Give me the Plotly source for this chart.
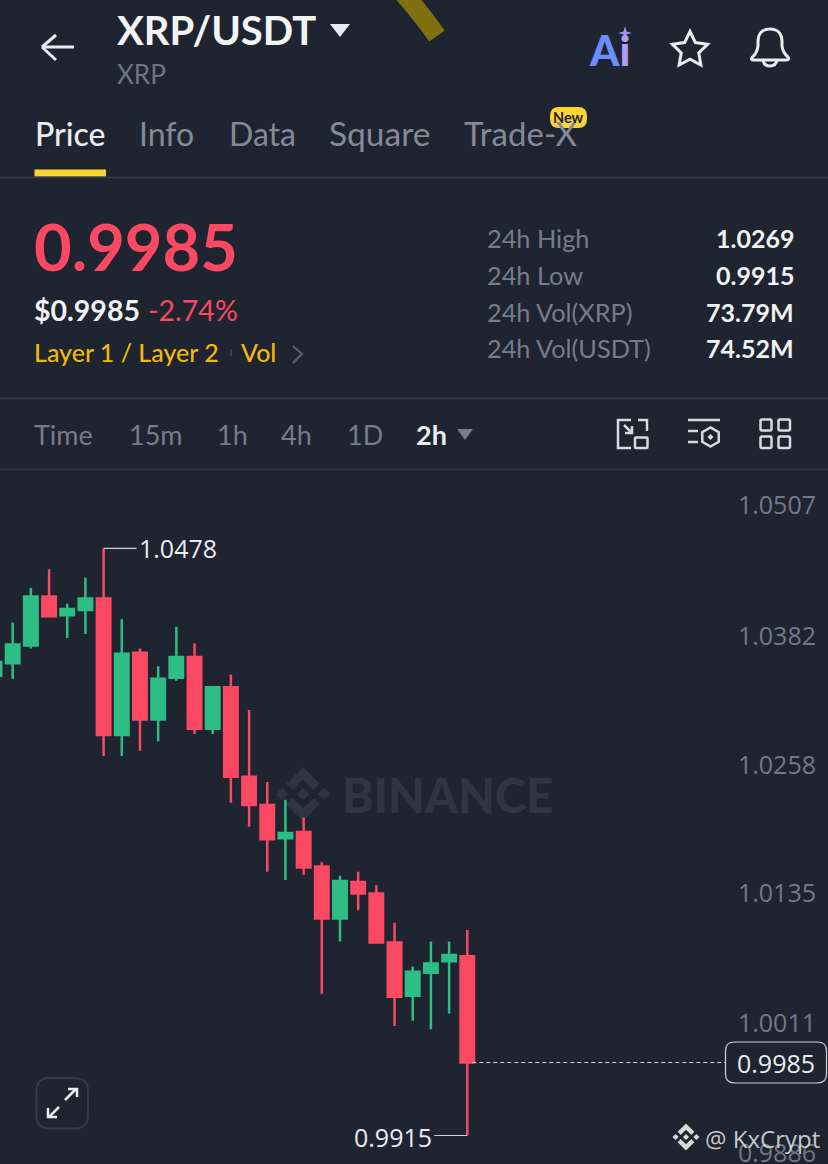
import math
import plotly.graph_objects as go

# ---- data ----
opens  = [1.0356,1.0368,1.0385,1.0432,1.0414,1.0419,1.0430,1.0299,1.0378,1.0314,1.0354,1.0374,1.0305,1.0345,1.0259,1.0232,1.0200,1.0206,1.0173,1.0123,1.0158,1.0147,1.0100,1.0049,1.0071,1.0082,1.0087]
highs  = [1.0376,1.0407,1.0440,1.0458,1.0425,1.0450,1.0478,1.0410,1.0382,1.0365,1.0403,1.0387,1.0345,1.0357,1.0323,1.0254,1.0237,1.0220,1.0177,1.0164,1.0168,1.0155,1.0119,1.0077,1.0101,1.0101,1.0112]
lows   = [1.0352,1.0353,1.0382,1.0413,1.0392,1.0396,1.0279,1.0279,1.0284,1.0293,1.0351,1.0300,1.0300,1.0234,1.0211,1.0168,1.0160,1.0165,1.0051,1.0101,1.0131,1.0100,1.0020,1.0025,1.0017,1.0032,0.9915]
closes = [1.0369,1.0386,1.0432,1.0413,1.0420,1.0430,1.0299,1.0377,1.0314,1.0353,1.0374,1.0305,1.0345,1.0259,1.0232,1.0199,1.0205,1.0172,1.0123,1.0159,1.0147,1.0100,1.0048,1.0072,1.0080,1.0088,0.9985]
price_ticks = [1.0507,1.0382,1.0258,1.0135,1.0011,0.9886]
last_price = 0.9985
tabs = ["Price","Info","Data","Square","Trade-X"]
periods = ["Time","15m","1h","4h","1D","2h"]
stat_labels = ["24h High","24h Low","24h Vol(XRP)","24h Vol(USDT)"]
stat_values = ["1.0269","0.9915","73.79M","74.52M"]

# ---- layout constants ----
W, H = 828, 1190
BG = "#1e2430"
RED = "#fb4863"
GREEN = "#2ebd85"
GRAY = "#848b97"
DIM = "#767d88"
YEL = "#f0b90b"
WHITE = "#eaecef"
UI = "Lato"
NUM = "Open Sans"
SPACING = 18.184
X0PX = -5.5
Y_SCALE = 10427        # pixels per price unit
Y_LAST_PX = 1062.5     # where the last price sits

def px(x): return x / W
def py(y): return 1 - y / H

shapes, annos = [], []

def text(x, y, s, size, color, anchor="left", weight=400, family=UI, opacity=1):
    shift = {"left": -2, "right": 2, "center": 0}[anchor]
    annos.append(dict(xref="paper", yref="paper", x=px(x), y=py(y), text=s, showarrow=False,
                      xanchor=anchor, yanchor="middle", opacity=opacity, borderpad=0, xshift=shift,
                      font=dict(size=size, color=color, family=family, weight=weight)))

def line(x0, y0, x1, y1, color, width=1, dash=None, layer="above"):
    shapes.append(dict(type="line", xref="paper", yref="paper", x0=px(x0), y0=py(y0), x1=px(x1), y1=py(y1),
                       line=dict(color=color, width=width, dash=dash), layer=layer))

def conv(d):
    out = []
    for cmd, c in d:
        vals = []
        for i in range(0, len(c), 2):
            vals.append(f"{px(c[i]):.6f},{py(c[i+1]):.6f}")
        out.append(cmd + " ".join(vals))
    return " ".join(out)

def path(d, color=None, fill=None, width=0, layer="above"):
    shapes.append(dict(type="path", xref="paper", yref="paper", path=conv(d),
                       line=dict(color=color or "rgba(0,0,0,0)", width=width),
                       fillcolor=fill or "rgba(0,0,0,0)", layer=layer))

def poly(pts, close=True):
    d = [("M", list(pts[0]))] + [("L", list(p)) for p in pts[1:]]
    if close:
        d.append(("Z", []))
    return d

def rrect(x0, y0, x1, y1, r):
    return [("M",[x0+r,y0]),("L",[x1-r,y0]),("Q",[x1,y0,x1,y0+r]),("L",[x1,y1-r]),("Q",[x1,y1,x1-r,y1]),
            ("L",[x0+r,y1]),("Q",[x0,y1,x0,y1-r]),("L",[x0,y0+r]),("Q",[x0,y0,x0+r,y0]),("Z",[])]

def logo(cx, cy, r, color, layer="above"):
    top = [(0,-1),(.62,-.38),(.39,-.15),(0,-.54),(-.39,-.15),(-.62,-.38)]
    dia = lambda ox, oy, k: [(ox,oy-k),(ox+k,oy),(ox,oy+k),(ox-k,oy)]
    parts = [top, [(x,-y) for x,y in top], dia(0,0,.23), dia(-.77,0,.23), dia(.77,0,.23)]
    for p in parts:
        path(poly([(cx+r*x, cy+r*y) for x,y in p]), fill=color, layer=layer)

# gold scratch at the top edge
path([("M",[402,-8]),("Q",[420,12,437,36])], color="#80700f", width=19)

# header
for seg in [(74,47,42,47),(56,35,42,47),(56,60,42,47)]:
    line(*seg, WHITE, 3)
text(118, 30, "XRP/USDT", 40, "#f2f3f5", weight=700)
path(poly([(330,24),(350,24),(340,37)]), fill=WHITE)
text(118, 74, "XRP", 26, "#6f7681")
# Ai mark
text(590, 50, '<span style="color:#6a8dff">A</span><span style="color:#b19cf6">i</span>', 42, "#6a8dff", weight=900)
s = 7
path(poly([(625,33-s),(626.5,31.5),(625+s,33),(626.5,34.5),(625,33+s),(623.5,34.5),(625-s,33),(623.5,31.5)]), fill="#a98ff0")
# star
R, r_in = 18.5, 9.2
pts = []
for k in range(10):
    a = -math.pi/2 + k*math.pi/5
    rad = R if k % 2 == 0 else r_in
    pts.append((690 + rad*math.cos(a), 50 + rad*math.sin(a)))
path(poly(pts), color=WHITE, width=3)
# bell
path([("M",[752.5,57]),("Q",[757,53,758,46]),("L",[758,42]),("C",[758,33,763,29,770,29]),("C",[777,29,782,33,782,42]),
      ("L",[782,46]),("Q",[783,53,788,57]),("Q",[790,60,786,60]),("L",[754,60]),("Q",[750,60,752.5,57]),("Z",[])],
     color=WHITE, width=3)
path([("M",[763,60]),("Q",[764,66,770,66]),("Q",[776,66,777,60])], color=WHITE, width=3)

# tabs
for name, x, col, w, fs in zip(tabs, [36,140,230,330,465], [WHITE,GRAY,GRAY,GRAY,GRAY], [500,400,400,400,400], [32,32,32,33.5,33]):
    text(x, 133, name, fs, col, weight=w)
shapes.append(dict(type="rect", xref="paper", yref="paper", x0=px(34.5), x1=px(106), y0=py(169.5), y1=py(176.5),
                   fillcolor="#fcd535", line=dict(width=0)))
line(0,177.5,828,177.5,"#343a46",1.5)
path(rrect(550,107,587,128,9), fill="#fcd535")
text(568.5, 117.5, "New", 14.5, "#1e2329", anchor="center", weight=700)

# price block
text(35, 246, "0.9985", 65, RED, weight=700)
text(35, 310, "$0.9985", 28.5, "#f0f1f3", weight=700)
text(149, 310, "-2.74%", 28.5, RED, weight=400)
text(35, 352, "Layer 1 / Layer 2", 25, YEL, weight=500)
line(231,349,231,356,"#3b414c",2)
text(242, 352, "Vol", 25, YEL, weight=500)
path(poly([(293,346),(302,354),(293,363)], close=False), color="#5a606c", width=2)

# stats
for lab, val, y in zip(stat_labels, stat_values, [238,275,312,348]):
    text(488, y, lab, 25.3, DIM)
    text(793, y, val, 25, "#f0f1f3", anchor="right", weight=700)

line(0,398.5,828,398.5,"#343a46",1.5)
line(0,469.5,828,469.5,"#343a46",1.5)

# period bar
for name, x in zip(periods, [35,130,218,282,348,417]):
    on = name == "2h"
    text(x, 434, name, 27, WHITE if on else DIM, weight=700 if on else 400)
path(poly([(457,429),(473,429),(465,440)]), fill=DIM)

# toolbar icons
IC = "#d8dade"
path([("M",[631,420]),("L",[618,420]),("L",[618,448]),("L",[631,448])], color=IC, width=2.5)
path([("M",[638,420]),("L",[647,420]),("L",[647,431])], color=IC, width=2.5)
path(rrect(635,437.5,647.5,448,1), color=IC, width=2.5)
line(624,425,632,433,IC,2.5)
path(poly([(625,433),(632,433),(632,426)],close=False), color=IC, width=2.5)
line(688,420,720,420,IC,2.5)
line(688,431,698,431,IC,2.5)
line(688,442,698,442,IC,2.5)
hexa = [(710.5+9.5*math.sin(k*math.pi/3), 437+9.5*math.cos(k*math.pi/3)) for k in range(6)]
path(poly(hexa), color=IC, width=2.5)
path(poly([(710.5,434),(713.5,437),(710.5,440),(707.5,437)]), fill=IC)
for x0,x1 in [(760.5,771.5),(778.5,790)]:
    for y0,y1 in [(419.5,430.5),(436.5,448)]:
        path(rrect(x0,y0,x1,y1,1.5), color=IC, width=2.5)

# watermark
logo(303, 794, 27, "#30363f", layer="below")
text(343, 794, "BINANCE", 47.5, "#30363f", weight=900)

# ---- chart ----
x_idx = list(range(len(opens)))
fig = go.Figure(go.Candlestick(
    x=x_idx, open=opens, high=highs, low=lows, close=closes, whiskerwidth=0,
    increasing=dict(line=dict(color=GREEN, width=2.5), fillcolor=GREEN),
    decreasing=dict(line=dict(color=RED, width=2.5), fillcolor=RED),
    hoverinfo="skip", showlegend=False))

# high / low callouts drawn from the data
ihi = highs.index(max(highs))
ilo = lows.index(min(lows))
pxu = 1 / SPACING
shapes.append(dict(type="line", xref="x", yref="y", x0=ihi, x1=ihi + 33*pxu, y0=highs[ihi], y1=highs[ihi],
                   line=dict(color="#cfd1d4", width=1.2)))
shapes.append(dict(type="line", xref="x", yref="y", x0=ilo, x1=ilo - 33*pxu, y0=lows[ilo], y1=lows[ilo],
                   line=dict(color="#cfd1d4", width=1.2)))
annos.append(dict(xref="x", yref="y", x=ihi + 33.5*pxu, y=highs[ihi], text=f"{highs[ihi]:.4f}", showarrow=False,
                  xanchor="left", yanchor="middle", font=dict(size=25, color=WHITE, family=NUM)))
annos.append(dict(xref="x", yref="y", x=ilo - 33*pxu, y=lows[ilo], text=f"{lows[ilo]:.4f}", showarrow=False,
                  xanchor="right", yanchor="middle", yshift=-2, font=dict(size=25, color=WHITE, family=NUM)))

# last price line and tag
ilast = len(closes) - 1
shapes.append(dict(type="line", xref="x", yref="y", x0=ilast + 5*pxu, x1=ilast + 259*pxu, y0=last_price, y1=last_price,
                   line=dict(color="#cfd1d4", width=1.2, dash="4px,3px")))
path(rrect(725.5,1042,826.5,1083,9), color="#d0d2d6", fill=BG, width=1.2)
text(776, 1063, f"{last_price:.4f}", 25, WHITE, anchor="center", family=NUM)

# expand button
path(rrect(36.5,1078,88,1128.5,13), color="#353a45", width=2)
line(65,1100,76,1089,WHITE,2.5); path(poly([(68,1089),(77,1089),(77,1097)],close=False), color=WHITE, width=2.5)
line(59,1107,49,1117,WHITE,2.5); path(poly([(48,1108),(48,1117),(57,1117)],close=False), color=WHITE, width=2.5)

# @KxCrypt watermark
logo(686, 1137, 13.5, "#d9d9d9")
text(706, 1138, "@ KxCrypt", 24, "#d9d9d9", family=NUM, opacity=0.9)

y_top = last_price + (Y_LAST_PX - 470) / Y_SCALE
y_bot = last_price - (H - Y_LAST_PX) / Y_SCALE

fig.update_layout(
    width=W, height=H, autosize=False,
    margin=dict(l=0, r=0, t=0, b=0, pad=0),
    paper_bgcolor=BG, plot_bgcolor=BG,
    boxgap=0.26, boxgroupgap=0,
    shapes=shapes, annotations=annos,
    hovermode=False,
    xaxis=dict(range=[-X0PX/SPACING, (W-X0PX)/SPACING], visible=False, rangeslider=dict(visible=False), fixedrange=True),
    yaxis=dict(domain=[0, (H-470)/H], range=[y_bot, y_top], side="right",
               tickmode="array", tickvals=price_ticks, ticktext=[f"{v:.4f}" for v in price_ticks],
               ticklabelposition="inside top", ticks="", showgrid=False, zeroline=False, showline=False,
               ticklabelstandoff=9, ticklabelshift=5, fixedrange=True,
               tickfont=dict(size=25, color="#727985", family=NUM)),
)

fig.write_html("out.html", config=dict(displayModeBar=False),
               post_script="document.documentElement.style.overflow='hidden';document.body.style.overflow='hidden';document.body.style.margin='0';document.body.style.background='#1e2430';")
